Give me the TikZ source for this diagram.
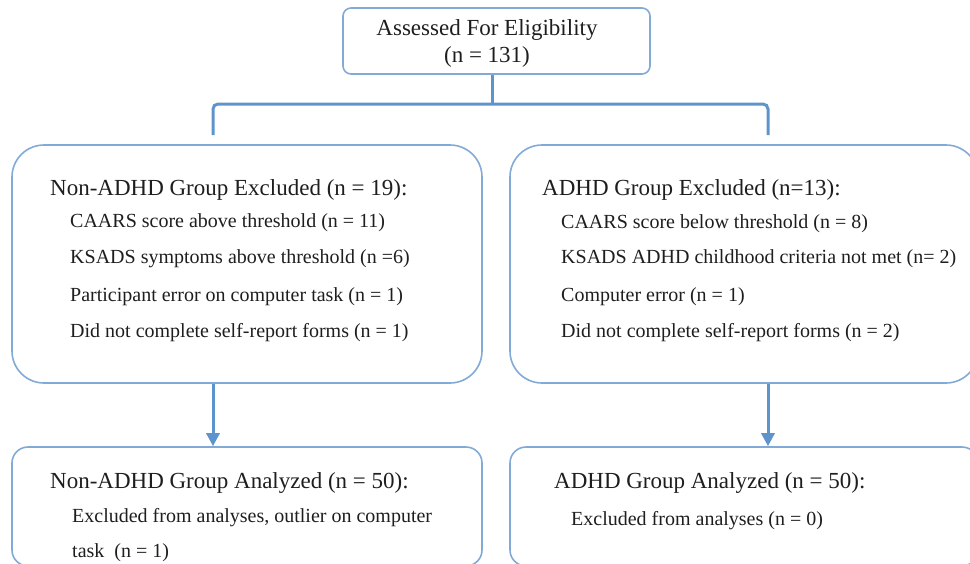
\documentclass[tikz,border=0pt]{standalone}
\usepackage{fontspec}
\setmainfont{Liberation Serif}
\usepackage{xcolor}
\definecolor{BoxBlue}{RGB}{130,170,214}
\definecolor{LinkBlue}{RGB}{94,148,204}
\definecolor{InkGray}{RGB}{30,30,30}
\usetikzlibrary{arrows.meta}

\tikzset{
  box/.style={draw=BoxBlue, line width=1.6pt},
  head/.style={anchor=west, inner sep=0pt, text=InkGray, font=\fontsize{23}{26}\selectfont},
  item/.style={anchor=west, inner sep=0pt, text=InkGray, font=\fontsize{20}{23}\selectfont},
  link/.style={draw=LinkBlue, line width=3pt},
  flow/.style={link, -{Triangle[length=13pt,width=13pt]}}
}

\begin{document}
\begin{tikzpicture}[x=1pt, y=-1pt]
\useasboundingbox (0,0) rectangle (970,563);

% screening box
\node[box, rounded corners=8pt, minimum width=307pt, minimum height=66pt] (assess) at (496.5,41) {};
\node[head, anchor=center] (assessA) at (487,30) {Assessed For Eligibility};
\node[head, anchor=center] (assessB) at (487,57) {(n = 131)};

% split into the two groups
\coordinate (split) at (492,104);
\coordinate (brL) at (213,135);
\coordinate (brR) at (768,135);
\draw[link] (split) -- (split |- assess.south);
\draw[link, rounded corners=5pt] (brL) |- (split) -| (brR);

% exclusions
\node[box, rounded corners=32pt, minimum width=470pt, minimum height=238pt] (exclL) at (247,264) {};
\node[box, rounded corners=32pt, minimum width=468pt, minimum height=238pt] (exclR) at (744,264) {};

\node[head] (exclLt) at (50,190) {Non-ADHD Group Excluded (n = 19):};
\node[item] (exclL1) at (70,223) {CAARS score above threshold (n = 11)};
\node[item] (exclL2) at (70,259) {KSADS symptoms above threshold (n =6)};
\node[item] (exclL3) at (70,297) {Participant error on computer task (n = 1)};
\node[item] (exclL4) at (70,333) {Did not complete self-report forms (n = 1)};

\node[head] (exclRt) at (542,190) {ADHD Group Excluded (n=13):};
\node[item] (exclR1) at (561,224) {CAARS score below threshold (n = 8)};
\node[item] (exclR2) at (561,259) {KSADS ADHD childhood criteria not met (n= 2)};
\node[item] (exclR3) at (561,297) {Computer error (n = 1)};
\node[item] (exclR4) at (561,333) {Did not complete self-report forms (n = 2)};

% analyzed
\node[box, rounded corners=16pt, minimum width=470pt, minimum height=119pt] (anaL) at (247,506.5) {};
\node[box, rounded corners=16pt, minimum width=468pt, minimum height=119pt] (anaR) at (744,506.5) {};

\draw[flow] (brL |- exclL.south) -- (brL |- anaL.north);
\draw[flow] (brR |- exclR.south) -- (brR |- anaR.north);

\node[head] (anaLt) at (50,483) {Non-ADHD Group Analyzed (n = 50):};
\node[item] (anaL1) at (72,518) {Excluded from analyses, outlier on computer};
\node[item] (anaL2) at (72,553) {task\ \ (n = 1)};

\node[head] (anaRt) at (554,483) {ADHD Group Analyzed (n = 50):};
\node[item] (anaR1) at (571,521) {Excluded from analyses (n = 0)};
\end{tikzpicture}
\end{document}
